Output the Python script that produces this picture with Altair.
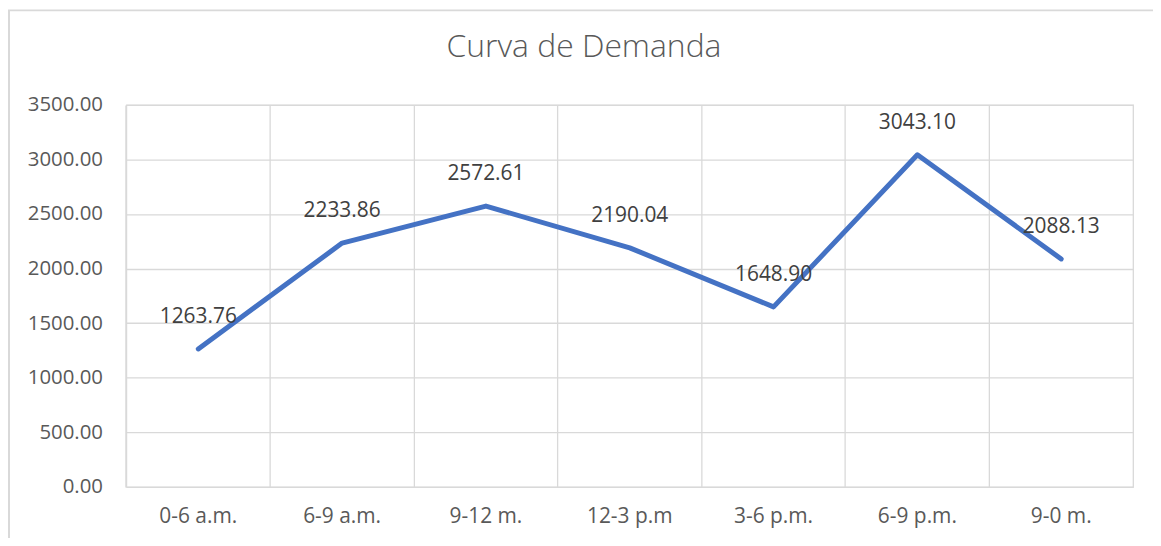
import altair as alt
import pandas as pd

categories = ["0-6 a.m.", "6-9 a.m.", "9-12 m.", "12-3 p.m", "3-6 p.m.", "6-9 p.m.", "9-0 m."]
demand = [1263.76, 2233.86, 2572.61, 2190.04, 1648.90, 3043.10, 2088.13]
y_ticks = [0, 500, 1000, 1500, 2000, 2500, 3000, 3500]
title_text = ["Curva de Demanda"]

df = pd.DataFrame({"periodo": categories, "demanda": demand})

W, H = 1012, 384
FONT = "Open Sans"
GRID = "#d9d9d9"

x_enc = alt.X(
    "periodo:N",
    sort=categories,
    scale=alt.Scale(type="band", paddingInner=0, paddingOuter=0),
    bandPosition=0.5,
    axis=alt.Axis(
        title=None, bandPosition=0, grid=True,
        gridColor=GRID, gridWidth=1.3, ticks=False, domain=False, labelAngle=0,
        labelFont=FONT, labelFontSize=21, labelColor="#595959", labelPadding=19,
    ),
)
y_enc = alt.Y(
    "demanda:Q",
    scale=alt.Scale(domain=[0, 3500], nice=False),
    axis=alt.Axis(
        title=None, values=y_ticks, format=".2f", grid=True, gridColor=GRID,
        gridWidth=1.3, ticks=False, domain=False, labelFont=FONT,
        labelFontSize=20.5, labelColor="#595959", labelPadding=24,
    ),
)

base = alt.Chart(df).encode(x=x_enc, y=y_enc)

line = base.mark_line(color="#4472C4", strokeWidth=5, strokeCap="round", strokeJoin="round")
labels = base.mark_text(dy=-32, font=FONT, fontSize=21, color="#404040").encode(
    text=alt.Text("demanda:Q", format=".2f")
)

frame = alt.Chart(pd.DataFrame({"k": [0]})).mark_rect(
    fill="transparent", stroke=GRID, strokeWidth=2
).encode(
    x=alt.value(-118), x2=alt.value(W + 100), y=alt.value(-95), y2=alt.value(H + 100)
)

title = alt.Chart(pd.DataFrame({"t": title_text})).mark_text(
    font=FONT, fontSize=32, fontWeight=300, color="#595959", align="center",
    baseline="alphabetic"
).encode(text="t:N", x=alt.value(W / 2 - 46), y=alt.value(-48))

chart = alt.layer(frame, line, labels, title).properties(
    width=W,
    height=H,
    autosize="none",
    padding={"left": 119, "top": 96, "right": 20, "bottom": 50},
).configure_view(stroke=GRID, strokeWidth=1.3)

chart.save("out.html", embed_options={"renderer": "svg", "actions": False})
